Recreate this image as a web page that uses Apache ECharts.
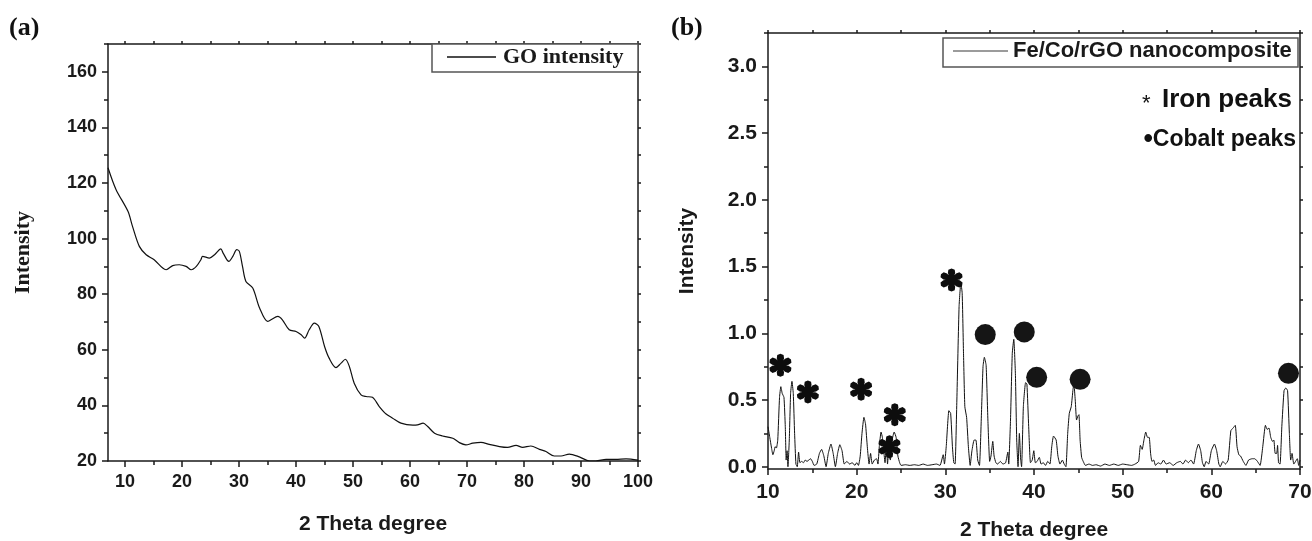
<!DOCTYPE html>
<html><head><meta charset="utf-8">
<script src="https://cdn.jsdelivr.net/npm/echarts@6/dist/echarts.min.js"></script>
<style>html,body{margin:0;padding:0;background:#fff}#c{width:1312px;height:541px}</style>
</head><body><div id="c"></div>
<script>
// ---------- DATA ----------
// Panel (a): GO XRD pattern [2θ, intensity]
const goPattern = [
  [7,125.5],[8.4,117.7],[10.5,109.8],[11.3,104.4],[12.5,97.2],[13.7,94.2],[15.1,92.4],[16.6,89.4],
  [17.2,88.8],[18.35,90.3],[19.5,90.6],[20.7,90.0],[21.6,88.8],[22.5,90.0],[23.3,92.4],[23.6,93.6],
  [24.8,93.0],[25.7,94.2],[26.8,96.3],[27.2,94.8],[28.2,91.8],[28.9,93.6],[29.6,96.0],[30.05,95.4],
  [30.6,90.0],[31.2,84.6],[32.4,82.2],[33.6,75.0],[35.0,70.2],[35.6,70.8],[36.8,72.0],[37.6,70.8],
  [38.8,67.2],[40.0,66.6],[40.9,65.4],[41.5,64.2],[42.3,67.2],[43.2,69.6],[44.0,68.4],[45.0,61.2],
  [45.8,57.0],[47.0,53.6],[47.9,55.2],[48.65,56.6],[49.35,54.0],[50.2,48.0],[51.4,43.8],[52.3,43.2],
  [53.4,42.9],[54.6,39.6],[55.8,36.9],[56.95,35.4],[58.4,33.6],[60.5,32.9],[61.3,33.0],[62.3,33.6],
  [63.1,32.4],[64.3,30.0],[65.7,29.0],[67.5,28.2],[68.65,26.6],[69.8,25.8],[71.0,26.4],[72.45,26.7],
  [73.9,26.0],[75.7,25.2],[77.1,24.9],[78.6,25.6],[79.75,24.9],[81.2,25.4],[82.7,24.2],[83.85,23.4],
  [85.3,21.8],[86.5,21.8],[87.95,22.5],[89.7,21.5],[91.5,20.0],[92.6,20.0],[94.4,20.6],[96.1,20.6],
  [97.9,20.8],[100,20.3]
];
// Panel (b): Fe/Co/rGO XRD pattern [2θ, intensity]
const fcPattern = [
  [10.0,0.30],[10.2,0.22],[10.4,0.14],[10.55,0.09],[10.7,0.12],[10.8,0.15],[10.95,0.14],[11.1,0.20],
  [11.3,0.52],[11.45,0.60],[11.6,0.55],[11.8,0.52],[11.95,0.30],[12.05,0.05],[12.15,0.12],[12.25,0.0],
  [12.4,0.20],[12.55,0.55],[12.7,0.64],[12.85,0.55],[13.0,0.25],[13.15,0.02],[13.3,0.0],[13.45,0.11],
  [13.6,0.03],[13.8,0.04],[14.0,0.03],[14.2,0.05],[14.4,0.04],[14.6,0.05],[14.8,0.06],[15.0,0.04],
  [15.2,0.01],[15.5,0.02],[15.8,0.10],[16.05,0.13],[16.3,0.08],[16.55,0.0],[16.8,0.10],[17.1,0.17],
  [17.35,0.10],[17.6,0.0],[17.85,0.10],[18.1,0.165],[18.35,0.12],[18.6,0.02],[18.9,0.04],[19.2,0.02],
  [19.5,0.03],[19.8,0.01],[20.0,0.03],[20.2,0.01],[20.4,0.08],[20.6,0.25],[20.82,0.37],[21.0,0.32],
  [21.2,0.15],[21.4,0.02],[21.57,0.10],[21.75,0.02],[22.0,0.05],[22.25,0.06],[22.4,0.02],[22.55,0.15],
  [22.75,0.26],[22.9,0.22],[23.05,0.12],[23.2,0.03],[23.35,0.20],[23.48,0.02],[23.6,0.10],[23.8,0.05],
  [24.0,0.20],[24.23,0.26],[24.45,0.22],[24.65,0.08],[24.85,0.03],[25.0,0.01],[25.5,0.015],[26.0,0.01],
  [26.5,0.015],[27.0,0.01],[27.5,0.02],[28.0,0.01],[28.5,0.015],[29.0,0.02],[29.4,0.01],[29.76,0.09],
  [29.9,0.02],[30.1,0.15],[30.4,0.42],[30.6,0.40],[30.8,0.15],[30.95,0.03],[31.1,0.02],[31.3,0.50],
  [31.55,1.20],[31.75,1.38],[31.9,1.30],[32.05,0.85],[32.2,0.45],[32.4,0.37],[32.6,0.15],[32.8,0.01],
  [33.0,0.12],[33.25,0.20],[33.45,0.20],[33.65,0.05],[33.85,0.01],[34.05,0.35],[34.25,0.75],[34.4,0.82],
  [34.6,0.76],[34.8,0.35],[35.0,0.04],[35.15,0.08],[35.35,0.19],[35.5,0.08],[35.7,0.03],[35.9,0.02],
  [36.2,0.04],[36.5,0.02],[36.8,0.03],[37.05,0.11],[37.15,0.02],[37.35,0.35],[37.55,0.85],[37.72,0.955],
  [37.9,0.70],[38.05,0.20],[38.2,0.0],[38.35,0.25],[38.5,0.05],[38.6,0.0],[38.8,0.45],[39.05,0.63],
  [39.2,0.62],[39.4,0.30],[39.6,0.03],[39.8,0.05],[39.98,0.12],[40.15,0.03],[40.35,0.04],[40.6,0.07],
  [40.8,0.02],[41.05,0.03],[41.3,0.01],[41.55,0.04],[41.8,0.02],[42.0,0.15],[42.2,0.23],[42.5,0.20],
  [42.7,0.08],[42.93,0.02],[43.2,0.05],[43.4,0.02],[43.6,0.0],[43.8,0.25],[43.98,0.40],[44.2,0.45],
  [44.4,0.58],[44.5,0.62],[44.65,0.50],[44.8,0.35],[44.95,0.38],[45.07,0.39],[45.2,0.20],[45.37,0.07],
  [45.55,0.04],[45.8,0.01],[46.2,0.02],[46.6,0.01],[47.0,0.015],[47.5,0.005],[48.0,0.02],[48.5,0.01],
  [49.0,0.02],[49.5,0.01],[50.0,0.02],[50.5,0.015],[51.0,0.01],[51.4,0.02],[51.8,0.04],[52.0,0.16],
  [52.2,0.13],[52.4,0.20],[52.6,0.26],[52.8,0.22],[52.99,0.22],[53.15,0.10],[53.3,0.04],[53.5,0.05],
  [53.7,0.01],[54.0,0.03],[54.3,0.02],[54.6,0.05],[54.9,0.02],[55.3,0.03],[55.7,0.01],[56.1,0.03],
  [56.5,0.04],[56.8,0.02],[57.1,0.05],[57.4,0.03],[57.7,0.05],[58.0,0.02],[58.3,0.12],[58.55,0.17],
  [58.8,0.12],[59.0,0.03],[59.2,0.0],[59.4,0.04],[59.7,0.02],[60.0,0.12],[60.35,0.17],[60.6,0.12],
  [60.85,0.02],[61.0,0.0],[61.3,0.04],[61.6,0.02],[61.9,0.05],[62.2,0.27],[62.45,0.29],[62.7,0.31],
  [62.9,0.15],[63.1,0.09],[63.3,0.08],[63.6,0.04],[63.9,0.01],[64.2,0.05],[64.6,0.06],[64.9,0.06],
  [65.2,0.04],[65.5,0.01],[65.8,0.15],[66.1,0.31],[66.3,0.28],[66.5,0.29],[66.7,0.22],[66.9,0.19],
  [67.05,0.20],[67.2,0.10],[67.37,0.10],[67.47,0.16],[67.58,0.03],[67.75,0.02],[67.95,0.30],[68.2,0.57],
  [68.4,0.59],[68.6,0.57],[68.8,0.25],[68.95,0.05],[69.1,0.10],[69.3,0.02],[69.5,0.04],[69.7,0.06],
  [69.85,0.01],[70.0,0.05]
];
// Peak annotation marks (panel b) [2θ, height of mark]
const ironPeaks = [[11.4,0.76],[14.5,0.56],[20.5,0.58],[24.3,0.39],[23.7,0.15],[30.7,1.40]];
const cobaltPeaks = [[34.5,0.99],[38.9,1.01],[40.3,0.67],[45.2,0.655],[68.7,0.70]];
// Tick values
const aXTicks = [10,20,30,40,50,60,70,80,90,100];
const aXMinor = [15,25,35,45,55,65,75,85,95];
const aYTicks = [20,40,60,80,100,120,140,160];
const aYMinor = [30,50,70,90,110,130,150,170];
const bXTicks = [10,20,30,40,50,60,70];
const bXMinor = [15,25,35,45,55,65];
const bYTicks = [0,0.5,1.0,1.5,2.0,2.5,3.0];
const bYMinor = [0.25,0.75,1.25,1.75,2.25,2.75,3.25];
const seriesNames = ['GO intensity','Fe/Co/rGO nanocomposite'];

// ---------- STYLE ----------
const SANS = 'Liberation Sans';
const SERIF = 'Liberation Serif';
const AX = '#1a1a1a';

function axis(grid, pos, min, max, o) {
  return {
    type: 'value', gridIndex: grid, position: pos, min: min, max: max, offset: 0, silent: true,
    axisLine: { show: o.line !== false, onZero: false, lineStyle: { color: AX, width: 1.5 } },
    axisTick: { show: !!o.ticks, customValues: o.ticks, length: o.tickLen || 6, lineStyle: { color: AX, width: 1.5 } },
    axisLabel: { show: !!o.labels, customValues: o.labels, formatter: o.fmt, fontFamily: SANS, fontWeight: 'bold',
                 fontSize: o.fs || 16, color: '#1a1a1a', margin: o.margin || 10 },
    splitLine: { show: false },
    name: o.name || '', nameLocation: 'middle', nameGap: o.nameGap || 0, nameTextStyle: o.nameStyle || {}
  };
}

function asteriskPath() {
  const arm = [[-1.0,0],[-3.0,6.0],[-2.6,8.9],[0,10],[2.6,8.9],[3.0,6.0],[1.0,0]];
  let d = '';
  for (let k = 0; k < 6; k++) {
    const a = k * Math.PI / 3, c = Math.cos(a), s = Math.sin(a);
    arm.forEach((p, i) => {
      const x = p[0]*c - p[1]*s, y = p[0]*s + p[1]*c;
      d += (i ? 'L' : 'M') + x.toFixed(2) + ',' + y.toFixed(2);
    });
    d += 'Z';
  }
  return 'path://' + d;
}

const chart = echarts.init(document.getElementById('c'), null, { renderer: 'canvas' });

const option = {
  animation: false,
  backgroundColor: '#fff',
  grid: [
    { left: 108, top: 44, width: 530, height: 417, outerBoundsMode: 'none', containLabel: false },
    { left: 768, top: 33, width: 532, height: 436, outerBoundsMode: 'none', containLabel: false }
  ],
  xAxis: [
    axis(0, 'bottom', 7, 100, { ticks: aXTicks, labels: aXTicks, fs: 18, margin: 12, tickLen: 6,
      name: '2 Theta degree', nameGap: 53, nameStyle: { fontFamily: SANS, fontWeight: 'bold', fontSize: 21, color: '#1a1a1a' } }),
    axis(0, 'bottom', 7, 100, { line: false, ticks: aXMinor, tickLen: 4 }),
    axis(0, 'top', 7, 100, { ticks: aXTicks.concat(aXMinor), tickLen: 3 }),
    axis(1, 'bottom', 10, 70, { ticks: bXTicks, labels: bXTicks, fs: 21, margin: 13, tickLen: 6,
      name: '2 Theta degree', nameGap: 51, nameStyle: { fontFamily: SANS, fontWeight: 'bold', fontSize: 21, color: '#1a1a1a' } }),
    axis(1, 'bottom', 10, 70, { line: false, ticks: bXMinor, tickLen: 4 }),
    axis(1, 'top', 10, 70, { ticks: bXTicks.concat(bXMinor), tickLen: 3 })
  ],
  yAxis: [
    axis(0, 'left', 20, 170, { ticks: aYTicks, labels: aYTicks, fs: 18, margin: 11, tickLen: 6,
      name: 'Intensity', nameGap: 74, nameStyle: { fontFamily: SERIF, fontWeight: 'bold', fontSize: 22, color: '#1a1a1a' } }),
    axis(0, 'left', 20, 170, { line: false, ticks: aYMinor, tickLen: 4 }),
    axis(0, 'right', 20, 170, { ticks: aYTicks.concat(aYMinor), tickLen: 3 }),
    axis(1, 'left', -0.017, 3.25, { ticks: bYTicks, labels: bYTicks, fs: 21, margin: 11, tickLen: 6,
      fmt: v => v.toFixed(1),
      name: 'Intensity', nameGap: 70, nameStyle: { fontFamily: SANS, fontWeight: 'bold', fontSize: 21, color: '#1a1a1a' } }),
    axis(1, 'left', -0.017, 3.25, { line: false, ticks: bYMinor, tickLen: 4 }),
    axis(1, 'right', -0.017, 3.25, { ticks: bYTicks.concat(bYMinor), tickLen: 3 })
  ],
  legend: [
    { data: [seriesNames[0]], left: 447, top: 46, padding: 0, icon: 'rect', itemWidth: 49, itemHeight: 1.3, z: 10,
      itemStyle: { color: '#111' },
      textStyle: { fontFamily: SERIF, fontWeight: 'bold', fontSize: 22, color: '#1a1a1a', padding: [0, 0, 0, 2] } },
    { data: [seriesNames[1]], left: 953, top: 40, padding: 0, icon: 'rect', itemWidth: 55, itemHeight: 1.3, z: 10,
      itemStyle: { color: '#7a7a7a' },
      textStyle: { fontFamily: SANS, fontWeight: 'bold', fontSize: 22, color: '#1a1a1a' } }
  ],
  graphic: [
    { type: 'rect', z: 5, shape: { x: 432, y: 44, width: 206, height: 28 }, style: { fill: '#fff', stroke: '#555', lineWidth: 1.5 } },
    { type: 'rect', z: 5, shape: { x: 943, y: 38, width: 355, height: 29 }, style: { fill: '#fff', stroke: '#555', lineWidth: 1.5 } },
    { type: 'text', left: 9, top: 15, style: { text: '(a)', fontFamily: SERIF, fontWeight: 'bold', fontSize: 26, fill: '#111' } },
    { type: 'text', left: 671, top: 15, style: { text: '(b)', fontFamily: SERIF, fontWeight: 'bold', fontSize: 26, fill: '#111' } },
    { type: 'text', left: 1142, top: 93, style: { text: '*', fontFamily: SANS, fontSize: 22, fill: '#111' } },
    { type: 'text', right: 20, top: 87, style: { text: 'Iron peaks', fontFamily: SANS, fontSize: 26, fontWeight: 'bold', fill: '#111' } },
    { type: 'text', right: 16, top: 126, style: { text: '{d|•}{b|Cobalt peaks}',
        rich: { d: { fontFamily: SANS, fontSize: 27, fontWeight: 'bold', fill: '#111' },
                b: { fontFamily: SANS, fontSize: 23, fontWeight: 'bold', fill: '#111' } } } }
  ],
  series: [
    { name: seriesNames[0], type: 'line', xAxisIndex: 0, yAxisIndex: 0, data: goPattern, symbol: 'none', smooth: 0.3,
      lineStyle: { color: '#111', width: 1.2 }, itemStyle: { color: '#111' } },
    { name: seriesNames[1], type: 'line', xAxisIndex: 3, yAxisIndex: 3, data: fcPattern, symbol: 'none', smooth: 0.15,
      lineStyle: { color: '#111', width: 1 }, itemStyle: { color: '#111' } },
    { name: 'Iron peaks', type: 'scatter', xAxisIndex: 3, yAxisIndex: 3, data: ironPeaks, symbol: asteriskPath(),
      symbolSize: [22, 23], itemStyle: { color: '#0d0d0d', opacity: 1 }, z: 4 },
    { name: 'Cobalt peaks', type: 'scatter', xAxisIndex: 3, yAxisIndex: 3, data: cobaltPeaks, symbol: 'circle',
      symbolSize: 21, itemStyle: { color: '#151515', opacity: 1 }, z: 4 }
  ]
};
chart.setOption(option);
</script>
</body></html>
